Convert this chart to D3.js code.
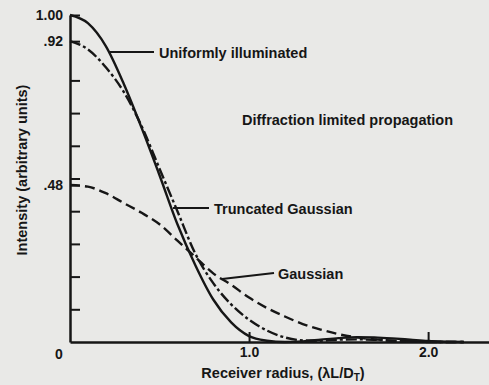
<!DOCTYPE html>
<html>
<head>
<meta charset="utf-8">
<script src="https://cdn.jsdelivr.net/npm/d3@7"></script>
<style>
  body { margin: 0; background: #e9e9e7; }
  svg text { font-family: "Liberation Sans", Arial, sans-serif; font-weight: bold; fill: #161616; }
</style>
</head>
<body>
<div id="chart"></div>
<script>
// receiver radius, in units of lambda L / D_T
var radius = [0, 0.1, 0.2, 0.3, 0.4, 0.5, 0.6, 0.7, 0.8, 0.9, 1.0, 1.1, 1.2, 1.3, 1.4, 1.5, 1.6, 1.7, 1.8, 1.9, 2.0, 2.1, 2.2];

// intensities
var uniform = [1.0, 0.975, 0.905, 0.79, 0.655, 0.51, 0.36, 0.235, 0.13, 0.06, 0.018, 0.004, 0.0, 0.002, 0.007, 0.012, 0.015, 0.014, 0.011, 0.007, 0.003, 0.001, 0.0];
var truncated = [0.92, 0.895, 0.84, 0.765, 0.66, 0.53, 0.40, 0.27, 0.18, 0.115, 0.068, 0.035, 0.014, 0.005, 0.004, 0.007, 0.008, 0.007, 0.004, 0.002, 0.0, 0.0, 0.0];
var gaussian = [0.48, 0.475, 0.455, 0.425, 0.395, 0.36, 0.31, 0.26, 0.21, 0.175, 0.136, 0.104, 0.078, 0.055, 0.038, 0.024, 0.014, 0.008, 0.004, 0.002, 0.001, 0.0, 0.0];

var yTicks = [0.1, 0.2, 0.3, 0.4, 0.48, 0.5, 0.6, 0.7, 0.8, 0.92, 1.0];
var yLabels = { "1": "1.00", "0.92": ".92", "0.48": ".48" };
var xTicks = [1, 2];

var width = 489,
    height = 385;

var svg = d3.select("#chart")
    .append("svg")
    .attr("width", width)
    .attr("height", height);

var x = d3.scaleLinear().domain([0, 2.34]).range([70, 489]);
var y = d3.scaleLinear().domain([0, 1]).range([342, 15]);

// axes, ticks point inward like the original
var yAxis = d3.axisLeft(y)
    .tickValues(yTicks)
    .tickSizeInner(-10)
    .tickSizeOuter(0)
    .tickPadding(7)
    .tickFormat(function (d) { return yLabels[String(d)] || ""; });

var xAxis = d3.axisBottom(x)
    .tickValues(xTicks)
    .tickSizeInner(-10)
    .tickSizeOuter(0)
    .tickPadding(5)
    .tickFormat(d3.format(".1f"));

var gy = svg.append("g")
    .attr("transform", "translate(70,0)")
    .call(yAxis);

var gx = svg.append("g")
    .attr("transform", "translate(0,342)")
    .call(xAxis);

[gx, gy].forEach(function (g) {
    g.select(".domain").attr("stroke", "#161616").attr("stroke-width", 2.5);
    g.selectAll(".tick line").attr("stroke", "#161616").attr("stroke-width", 2);
    g.selectAll(".tick text")
        .attr("font-size", 14)
        .attr("font-family", "Liberation Sans, Arial, sans-serif")
        .attr("font-weight", "bold")
        .attr("fill", "#161616");
});

svg.append("text")
    .attr("x", 59)
    .attr("y", 359)
    .attr("text-anchor", "middle")
    .attr("font-size", 14)
    .text("0");

// curves
var line = d3.line()
    .x(function (d) { return x(d[0]); })
    .y(function (d) { return y(d[1]); })
    .curve(d3.curveMonotoneX);

function pairs(vals) {
    return radius.map(function (r, i) { return [r, vals[i]]; });
}

svg.append("path")
    .datum(pairs(gaussian))
    .attr("d", line)
    .attr("fill", "none")
    .attr("stroke", "#161616")
    .attr("stroke-width", 2.4)
    .attr("stroke-dasharray", "10,5");

svg.append("path")
    .datum(pairs(truncated))
    .attr("d", line)
    .attr("fill", "none")
    .attr("stroke", "#161616")
    .attr("stroke-width", 2.4)
    .attr("stroke-dasharray", "11,3,3,3");

svg.append("path")
    .datum(pairs(uniform))
    .attr("d", line)
    .attr("fill", "none")
    .attr("stroke", "#161616")
    .attr("stroke-width", 2.4);

// leader lines and labels
var notes = [
    { text: "Uniformly illuminated", x1: 110, y1: 52, x2: 154, y2: 52, tx: 159, ty: 58 },
    { text: "Truncated Gaussian", x1: 173, y1: 208, x2: 209, y2: 208, tx: 214, ty: 214 },
    { text: "Gaussian", x1: 222, y1: 279, x2: 274, y2: 273, tx: 278, ty: 279 }
];

notes.forEach(function (n) {
    svg.append("line")
        .attr("x1", n.x1).attr("y1", n.y1)
        .attr("x2", n.x2).attr("y2", n.y2)
        .attr("stroke", "#161616")
        .attr("stroke-width", 2);
    svg.append("text")
        .attr("x", n.tx)
        .attr("y", n.ty)
        .attr("font-size", 14.5)
        .text(n.text);
});

svg.append("text")
    .attr("x", 242)
    .attr("y", 125)
    .attr("font-size", 14.5)
    .text("Diffraction limited propagation");

// axis titles
var xt = svg.append("text")
    .attr("x", 283)
    .attr("y", 378)
    .attr("text-anchor", "middle")
    .attr("font-size", 14.5);
xt.append("tspan").text("Receiver radius, (\u03bbL/D");
xt.append("tspan").attr("font-size", 10).attr("dy", 3).text("T");
xt.append("tspan").attr("dy", -3).text(")");

svg.append("text")
    .attr("transform", "translate(27,170) rotate(-90)")
    .attr("text-anchor", "middle")
    .attr("font-size", 14.5)
    .text("Intensity (arbitrary units)");
</script>
</body>
</html>
